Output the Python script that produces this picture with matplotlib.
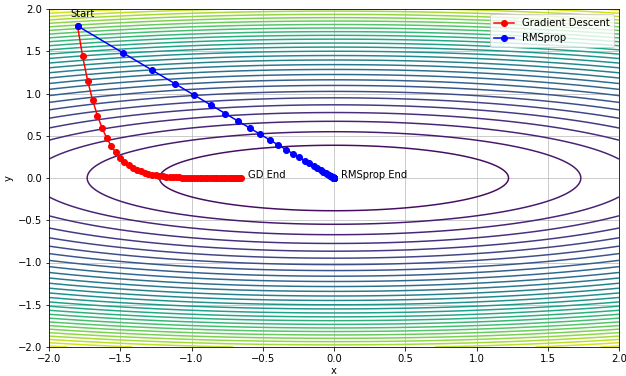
import matplotlib
matplotlib.use('Agg')
import matplotlib.pyplot as plt
import numpy as np

# loss surface f(x, y) = x^2 + 10 y^2
a_x = 1.0
a_y = 10.0
n_levels = 30

# trajectories
gd_x = [-1.800, -1.764, -1.729, -1.694, -1.660, -1.627, -1.595, -1.563, -1.531, -1.501,
        -1.471, -1.441, -1.412, -1.384, -1.357, -1.329, -1.303, -1.277, -1.251, -1.226,
        -1.202, -1.178, -1.154, -1.131, -1.108, -1.086, -1.065, -1.043, -1.022, -1.002,
        -0.982, -0.962, -0.943, -0.924, -0.906, -0.888, -0.870, -0.852, -0.835, -0.819,
        -0.802, -0.786, -0.770, -0.755, -0.740, -0.725, -0.711, -0.696, -0.683, -0.669,
        -0.656]
gd_y = [1.800, 1.440, 1.152, 0.922, 0.737, 0.590, 0.472, 0.378, 0.302, 0.242,
        0.193, 0.155, 0.124, 0.099, 0.079, 0.063, 0.051, 0.041, 0.032, 0.026,
        0.021, 0.017, 0.013, 0.011, 0.008, 0.007, 0.005, 0.004, 0.003, 0.003,
        0.002, 0.002, 0.001, 0.001, 0.001, 0.001, 0.000, 0.000, 0.000, 0.000,
        0.000, 0.000, 0.000, 0.000, 0.000, 0.000, 0.000, 0.000, 0.000, 0.000,
        0.000]
rms_x = [-1.800, -1.484, -1.276, -1.115, -0.980, -0.864, -0.762, -0.671, -0.590, -0.516,
         -0.450, -0.390, -0.336, -0.288, -0.245, -0.206, -0.172, -0.142, -0.117, -0.094,
         -0.075, -0.059, -0.046, -0.035, -0.027, -0.020, -0.014, -0.010, -0.007, -0.005,
         -0.003, -0.002, -0.001, -0.001, 0.000, 0.000, 0.000, 0.000, 0.000, 0.000,
         0.000, 0.000, 0.000, 0.000, 0.000, 0.000, 0.000, 0.000, 0.000, 0.000,
         0.000]
rms_y = [1.800, 1.484, 1.276, 1.115, 0.980, 0.864, 0.762, 0.671, 0.590, 0.516,
         0.450, 0.390, 0.336, 0.288, 0.245, 0.206, 0.172, 0.142, 0.117, 0.094,
         0.075, 0.059, 0.046, 0.035, 0.027, 0.020, 0.014, 0.010, 0.007, 0.005,
         0.003, 0.002, 0.001, 0.001, 0.000, 0.000, 0.000, 0.000, 0.000, 0.000,
         0.000, 0.000, 0.000, 0.000, 0.000, 0.000, 0.000, 0.000, 0.000, 0.000,
         0.000]

xs = np.linspace(-2, 2, 400)
ys = np.linspace(-2, 2, 400)
X, Y = np.meshgrid(xs, ys)
Z = a_x * X**2 + a_y * Y**2

fig = plt.figure(figsize=(626 / 72, 376 / 72), dpi=72)
plt.contour(X, Y, Z, levels=n_levels, cmap='viridis')
plt.plot(gd_x, gd_y, 'ro-', label='Gradient Descent')
plt.plot(rms_x, rms_y, 'bo-', label='RMSprop')

plt.text(gd_x[0] - 0.05, gd_y[0] + 0.1, 'Start')
plt.text(gd_x[-1] + 0.05, gd_y[-1], 'GD End')
plt.text(rms_x[-1] + 0.05, rms_y[-1], 'RMSprop End')

plt.xlabel('x', labelpad=1.5)
plt.ylabel('y')
plt.xlim(-2, 2)
plt.ylim(-2, 2)
plt.legend(loc='upper right')
plt.grid(True, alpha=0.8)
plt.subplots_adjust(left=49 / 626, right=619 / 626, top=1 - 9 / 376, bottom=1 - 347 / 376)
plt.savefig('out.png', dpi=72)
plt.close()
